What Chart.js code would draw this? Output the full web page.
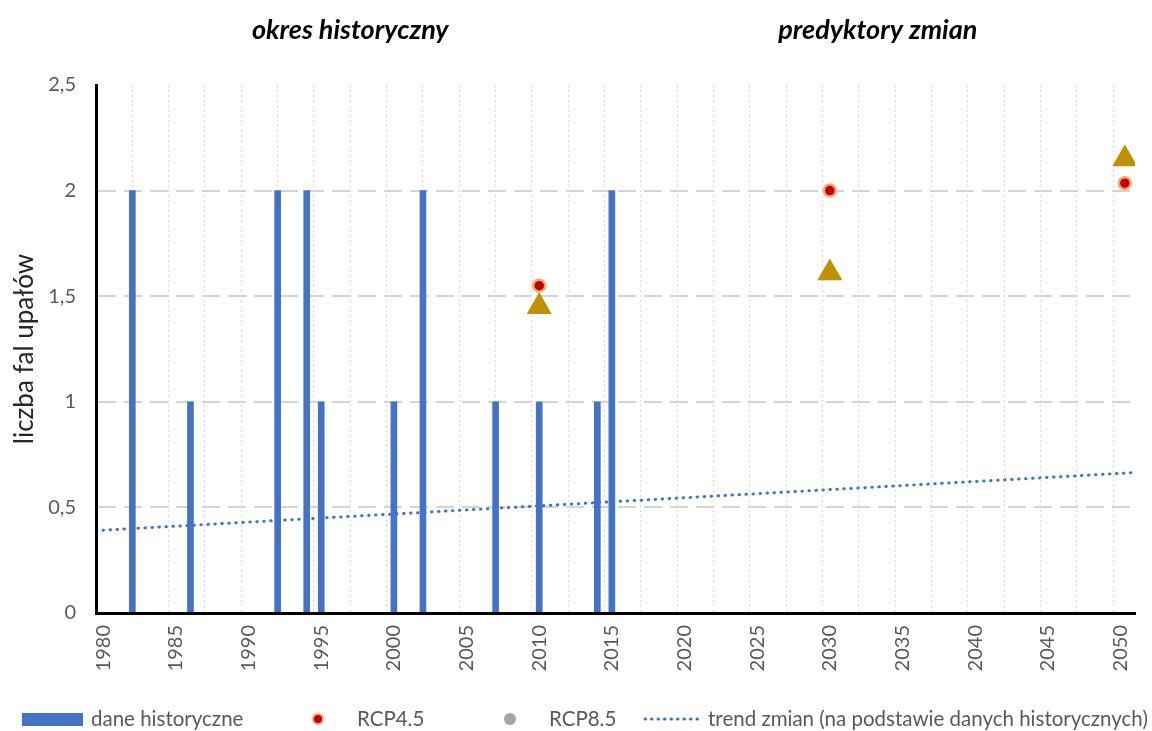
<!DOCTYPE html>
<html>
<head>
<meta charset="utf-8">
<script src="https://cdn.jsdelivr.net/npm/chart.js@4.4.1/dist/chart.umd.min.js"></script>
<style>
  html, body { margin: 0; padding: 0; background: #fff; }
</style>
</head>
<body>
<canvas id="chart" width="1152" height="731"></canvas>
<script>
// historical heat waves (bars)
const historyYears = [1982, 1986, 1992, 1994, 1995, 2000, 2002, 2007, 2010, 2014, 2015];
const historyWaves = [2, 1, 2, 2, 1, 1, 2, 1, 1, 1, 2];

// scenario predictors
const scenarioYears = [2010, 2030, 2050.3];
const rcp45 = [1.55, 2.0, 2.035];
const rcp85 = [1.45, 1.61, 2.15];

// linear trend from historical data (end points)
const trendYears = [1979.5, 2051];
const trendValues = [0.39, 0.665];

const yearTicks = [1980, 1985, 1990, 1995, 2000, 2005, 2010, 2015, 2020, 2025, 2030, 2035, 2040, 2045, 2050];
const periodTitles = ["okres historyczny", "predyktory zmian"];
const periodCenters = [1997, 2033.3];
const legendLabels = ["dane historyczne", "RCP4.5", "RCP8.5", "trend zmian (na podstawie danych historycznych)"];

const blue = "#4472C4";
const gold = "#BF9000";
const red = "#C00000";
const ring = "#F6A96E";
const grey = "#595959";
const FONT = "Lato";

const toPoints = (xs, ys) => xs.map((x, i) => ({ x: x, y: ys[i] }));

const overlay = {
  id: "overlay",
  afterDraw(chart) {
    const { ctx, scales } = chart;
    const x = scales.x;
    ctx.save();
    // period titles
    ctx.fillStyle = "#000";
    ctx.font = "italic bold 27px " + FONT;
    ctx.textAlign = "center";
    ctx.textBaseline = "middle";
    periodTitles.forEach((t, i) => ctx.fillText(t, x.getPixelForValue(periodCenters[i]), 30));

    // legend
    const ly = 719;
    ctx.font = "20.5px " + FONT;
    ctx.textAlign = "left";

    ctx.fillStyle = blue;
    ctx.fillRect(22, ly - 6, 61, 13);
    ctx.fillStyle = grey;
    ctx.fillText(legendLabels[0], 91, ly);

    ctx.beginPath();
    ctx.arc(318, ly, 5, 0, Math.PI * 2);
    ctx.fillStyle = red;
    ctx.fill();
    ctx.lineWidth = 2;
    ctx.strokeStyle = ring;
    ctx.stroke();
    ctx.fillStyle = grey;
    ctx.fillText(legendLabels[1], 357, ly);

    ctx.beginPath();
    ctx.arc(510, ly, 6, 0, Math.PI * 2);
    ctx.fillStyle = "#A5A5A5";
    ctx.fill();
    ctx.fillStyle = grey;
    ctx.fillText(legendLabels[2], 549, ly);

    ctx.beginPath();
    ctx.setLineDash([0.5, 6]);
    ctx.lineCap = "round";
    ctx.lineWidth = 3;
    ctx.strokeStyle = blue;
    ctx.moveTo(645, ly);
    ctx.lineTo(698, ly);
    ctx.stroke();
    ctx.setLineDash([]);
    ctx.fillStyle = grey;
    ctx.fillText(legendLabels[3], 708, ly);
    ctx.restore();
  }
};

new Chart(document.getElementById("chart"), {
  type: "scatter",
  data: {
    datasets: [
      {
        type: "scatter",
        label: legendLabels[1],
        data: toPoints(scenarioYears, rcp45),
        pointStyle: "circle",
        pointRadius: 6,
        backgroundColor: red,
        borderColor: ring,
        borderWidth: 2.5,
        order: 0
      },
      {
        type: "scatter",
        label: legendLabels[2],
        data: toPoints(scenarioYears, rcp85),
        pointStyle: "triangle",
        pointRadius: 14.5,
        backgroundColor: gold,
        borderColor: gold,
        borderWidth: 0,
        order: 1
      },
      {
        type: "line",
        label: legendLabels[3],
        data: toPoints(trendYears, trendValues),
        borderColor: blue,
        borderWidth: 3,
        borderDash: [0.5, 6.5],
        borderCapStyle: "round",
        pointRadius: 0,
        fill: false,
        order: 2
      },
      {
        type: "bar",
        label: legendLabels[0],
        data: toPoints(historyYears, historyWaves),
        backgroundColor: blue,
        barThickness: 6,
        order: 3
      }
    ]
  },
  options: {
    responsive: false,
    animation: false,
    devicePixelRatio: 1,
    layout: { padding: { top: 85, left: 0, right: 17, bottom: 48 } },
    plugins: { legend: { display: false }, tooltip: { enabled: false } },
    scales: {
      x: {
        type: "linear",
        position: "bottom",
        min: 1979.5,
        max: 2051,
        offset: false,
        afterBuildTicks: (axis) => { axis.ticks = yearTicks.map(v => ({ value: v })); },
        afterFit: (axis) => {
          axis.height = 70;
          axis.paddingLeft = 0;
          axis.paddingRight = 0;
        },
        grid: { display: false, drawTicks: false, offset: false },
        border: { display: true, color: "#000", width: 3, z: 1 },
        ticks: {
          minRotation: 90,
          maxRotation: 90,
          padding: 12,
          color: grey,
          font: { family: FONT, size: 20 },
          callback: (v) => String(v)
        }
      },
      xg: {
        type: "linear",
        axis: "x",
        position: "bottom",
        min: 1979.5,
        max: 2051,
        offset: false,
        afterBuildTicks: (axis) => {
          const t = [];
          for (let v = axis.min + 2.5; v < axis.max; v += 2.5) t.push({ value: v });
          axis.ticks = t;
        },
        afterFit: (axis) => {
          axis.height = 0;
          axis.paddingLeft = 0;
          axis.paddingRight = 0;
        },
        grid: { color: "#DADADA", lineWidth: 1, drawTicks: false },
        border: { display: false, dash: [2, 3] },
        ticks: { display: false }
      },
      y: {
        type: "linear",
        min: 0,
        max: 2.5,
        afterFit: (axis) => { axis.width = 96; },
        ticks: {
          stepSize: 0.5,
          padding: 20,
          color: grey,
          font: { family: FONT, size: 20 },
          callback: (v) => String(v).replace(".", ",")
        },
        grid: {
          drawTicks: false,
          lineWidth: 2,
          color: (c) => (c.tick && (c.tick.value === 0 || c.tick.value === 2.5)) ? "rgba(0,0,0,0)" : "#D4D4D4"
        },
        border: { display: true, color: "#000", width: 3, dash: [18, 8], z: 1 },
        title: {
          display: true,
          text: "liczba fal upałów",
          color: "#262626",
          font: { family: FONT, size: 26 },
          padding: { top: 9, bottom: 0 }
        }
      }
    }
  },
  plugins: [overlay]
});
</script>
</body>
</html>
